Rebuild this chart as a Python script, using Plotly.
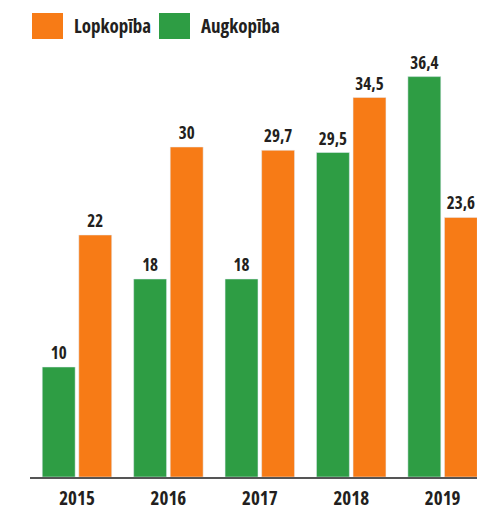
import plotly.graph_objects as go

years = ["2015", "2016", "2017", "2018", "2019"]
augkopiba = [10, 18, 18, 29.5, 36.4]
lopkopiba = [22, 30, 29.7, 34.5, 23.6]
aug_labels = ["10", "18", "18", "29,5", "36,4"]
lop_labels = ["22", "30", "29,7", "34,5", "23,6"]

GREEN = "#2e9d44"
ORANGE = "#f77b16"
TXT = "#231f20"
FONT = "Open Sans"


def sc(s):
    return f"<span style='font-stretch:semi-condensed'>{s}</span>"


W, H = 477, 507
ml, mr, mt, mb = 30, 0, 40, 30

fig = go.Figure()
fig.add_trace(go.Bar(x=years, y=augkopiba, name="Augkopība", marker_color=GREEN,
                     text=[sc(t) for t in aug_labels], textposition="outside", cliponaxis=False,
                     constraintext="none",
                     textfont=dict(family=FONT, size=17, color=TXT, weight="bold")))
fig.add_trace(go.Bar(x=years, y=lopkopiba, name="Lopkopība", marker_color=ORANGE,
                     text=[sc(t) for t in lop_labels], textposition="outside", cliponaxis=False,
                     constraintext="none",
                     textfont=dict(family=FONT, size=17, color=TXT, weight="bold")))

pw = W - ml - mr
ph = H - mt - mb


def px_x(x):
    return (x - ml) / pw


def px_y(y):
    return (H - mb - y) / ph


shapes = [
    dict(type="rect", xref="paper", yref="paper", x0=px_x(32), x1=px_x(63), y0=px_y(39), y1=px_y(13),
         fillcolor=ORANGE, line=dict(width=0)),
    dict(type="rect", xref="paper", yref="paper", x0=px_x(159), x1=px_x(190), y0=px_y(39), y1=px_y(13),
         fillcolor=GREEN, line=dict(width=0)),
]
annotations = [
    dict(text="<span style='font-stretch:condensed'>Lopkopība</span>", xref="paper", yref="paper",
         x=px_x(72), y=px_y(26), xanchor="left", yanchor="middle",
         showarrow=False, font=dict(family=FONT, size=19, color=TXT, weight="bold")),
    dict(text="<span style='font-stretch:condensed'>Augkopība</span>", xref="paper", yref="paper",
         x=px_x(199), y=px_y(26), xanchor="left", yanchor="middle",
         showarrow=False, font=dict(family=FONT, size=19, color=TXT, weight="bold")),
]

fig.update_layout(
    width=W, height=H,
    margin=dict(l=ml, r=mr, t=mt, b=mb, pad=0),
    paper_bgcolor="white", plot_bgcolor="white",
    barmode="group", bargap=0.2, bargroupgap=0.1,
    showlegend=False,
    shapes=shapes, annotations=annotations,
    xaxis=dict(type="category", range=[-0.514, 4.376], showgrid=False, showline=True,
               linecolor="#555555", linewidth=1.5, ticks="", zeroline=False, automargin=False,
               tickvals=years, ticktext=[sc(y) for y in years], ticklabelstandoff=3,
               tickfont=dict(family=FONT, size=19, color=TXT, weight="bold")),
    yaxis=dict(range=[0, ph / 11.0], visible=False, showgrid=False, zeroline=False),
)

fig.write_html("out.html", config={"displayModeBar": False},
               post_script="document.body.style.margin='0';document.body.style.overflow='hidden';")
